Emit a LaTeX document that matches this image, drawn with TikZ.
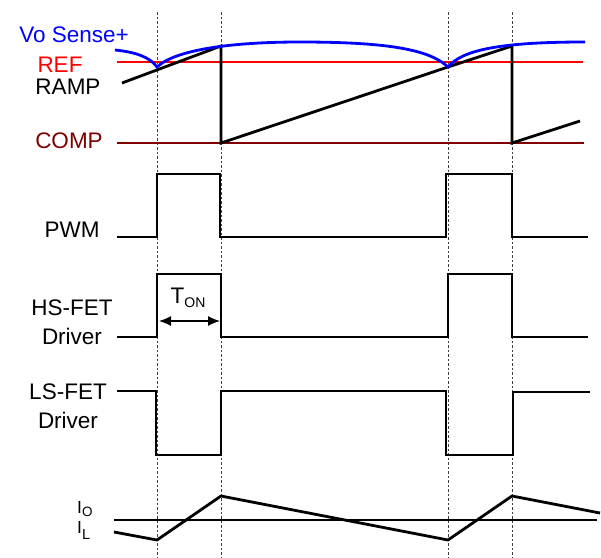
\documentclass[tikz,border=0pt]{standalone}
\usepackage{fontspec}
\setmainfont{Liberation Sans}
\usetikzlibrary{arrows.meta}
\definecolor{compred}{RGB}{128,0,0}
\tikzset{
    wave/.style = {line width=2.8pt, line join=miter},
    guide/.style = {line width=0.7pt, black!75, dash pattern=on 2.5pt off 2pt},
    sigtext/.style = {font=\fontsize{22.5}{29}\selectfont, align=center, inner sep=0pt},
    curtext/.style = {font=\fontsize{17.5}{20}\selectfont, anchor=west, inner sep=0pt}
}

\begin{document}
\begin{tikzpicture}[x=1pt, y=-1pt]
			\useasboundingbox (0,0) rectangle (601,557);
			% switching instants
			\foreach \t in {157,221,448,512}
				\draw [guide] (\t,12) -- (\t,557);
			% signal names
			\node (vo) [sigtext, text=blue] at (74,35) {Vo Sense+};
			\node (ref) [sigtext, text=red] at (60,65) {REF};
			\node (ramp) [sigtext] at (68,87) {RAMP};
			\node (comp) [sigtext, text=compred] at (69,141) {COMP};
			\node (pwm) [sigtext] at (72,230) {PWM};
			\node (hs) [sigtext] at (72,322) {HS-FET\\Driver};
			\node (ls) [sigtext] at (68,406) {LS-FET\\Driver};
			\node (io) [curtext] at (77,509) {I\raisebox{-3pt}{\fontsize{13.5}{13.5}\selectfont O}};
			\node (il) [curtext] at (77,530) {I\raisebox{-6pt}{\fontsize{14.5}{14.5}\selectfont L}};
			% comparator inputs
			\draw [wave, red] (117,62) -- (583,62);
			\draw [wave, compred] (117,143) -- (584,143);
			\draw [wave] (122,83) -- (221,46) -- (221,143) -- (448,67) -- (512,46) -- (512,143) -- (580,121);
			\draw [wave, blue] (115,50) .. controls (135,52) and (150,57) .. (157,67)
				.. controls (175,50) and (230,42) .. (300,42)
				.. controls (390,42) and (430,50) .. (448,67)
				.. controls (462,50) and (500,42) .. (585,42);
			% gate signals
			\draw [wave] (117,237) -- (157,237) -- (157,174) -- (220,174) -- (220,237) -- (446,237) -- (446,174) -- (512,174) -- (512,237) -- (588,237);
			\draw [wave] (117,337) -- (157,337) -- (157,274) -- (221,274) -- (221,337) -- (448,337) -- (448,274) -- (512,274) -- (512,337) -- (588,337);
			\draw [wave] (117,391) -- (156,391) -- (156,455) -- (221,455) -- (221,391) -- (446,391) -- (446,455) -- (513,455) -- (513,392) -- (590,392);
			% on time
			\coordinate (ton-a) at (159,321);
			\coordinate (ton-b) at (220,321);
			\draw [{Latex[length=12pt,width=10pt]}-{Latex[length=12pt,width=10pt]}, line width=1.2pt] (ton-a) -- (ton-b);
			\node (ton) [sigtext] at (188,298) {T\raisebox{-4pt}{\fontsize{14}{14}\selectfont ON}};
			% currents
			\draw [wave] (114,520) -- (597,520);
			\draw [wave] (114,532) -- (157,540) -- (221,496) -- (448,540) -- (512,496) -- (600,513);
		\end{tikzpicture}
\end{document}
